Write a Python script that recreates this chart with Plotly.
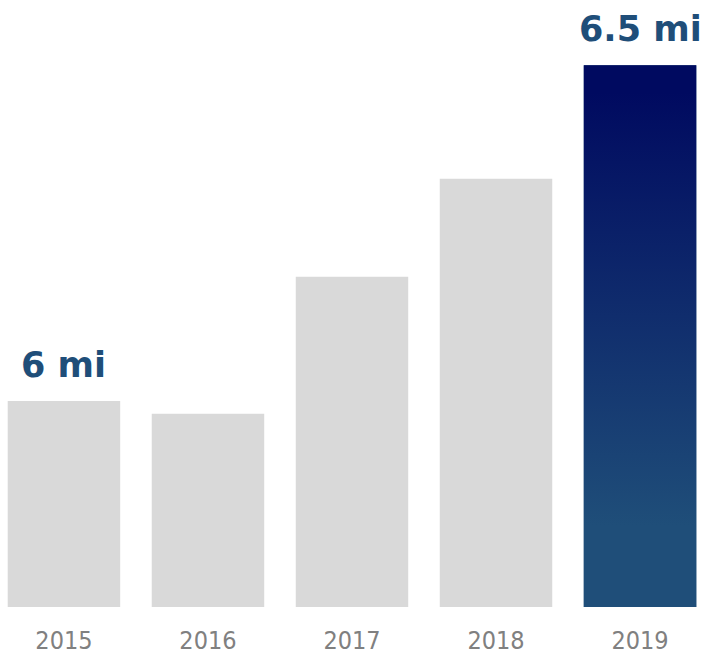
import plotly.graph_objects as go

years = ["2015", "2016", "2017", "2018", "2019"]
values = [6.0, 5.981, 6.185, 6.331, 6.5]
labels = ["6 mi", "", "", "", "6.5 mi"]
grey = "#D9D9D9"
navy_bottom = "#1F4E79"
navy_top = "#000A60"

y_min = 5.6935
y_max = 6.597
bargap = 0.219
bar_w = 1 - bargap

idx = list(range(len(years)))
colors = [grey] * (len(years) - 1) + [navy_bottom]

fig = go.Figure()
fig.add_trace(go.Bar(x=idx, y=values, marker=dict(color=colors, line=dict(width=0)),
                     hoverinfo="skip", showlegend=False))

# gradient overlay for the highlighted (last) bar, derived from data
hi = len(years) - 1
x0, x1 = idx[hi] - bar_w / 2, idx[hi] + bar_w / 2
fig.add_trace(go.Scatter(
    x=[x0, x1, x1, x0, x0],
    y=[y_min, y_min, values[hi], values[hi], y_min],
    mode="lines", fill="toself", line=dict(width=0),
    fillgradient=dict(type="vertical",
                      colorscale=[[0, navy_bottom], [0.15, navy_bottom], [0.95, navy_top], [1, navy_top]]),
    hoverinfo="skip", showlegend=False))

for i, (v, t) in enumerate(zip(values, labels)):
    if t:
        fig.add_annotation(x=i, y=v, text=t, showarrow=False, yanchor="bottom", yshift=14,
                           font=dict(family="DejaVu Sans", size=35, color="#1F4E79", weight="bold"))

fig.update_layout(
    width=707, height=657,
    margin=dict(l=0, r=0, t=0, b=50),
    plot_bgcolor="white", paper_bgcolor="white",
    bargap=bargap,
    xaxis=dict(tickmode="array", tickvals=idx, ticktext=years, range=[-0.444, 4.465],
               showgrid=False, zeroline=False, showline=False, ticks="",
               tickfont=dict(family="DejaVu Sans Condensed, DejaVu Sans", size=25, color="#808080", weight=300),
               ticklabelstandoff=16),
    yaxis=dict(range=[y_min, y_max], visible=False, showgrid=False, zeroline=False),
)

fig.write_html("out.html", config={"displayModeBar": False},
               post_script="document.body.style.margin='0';document.body.style.overflow='hidden';")
